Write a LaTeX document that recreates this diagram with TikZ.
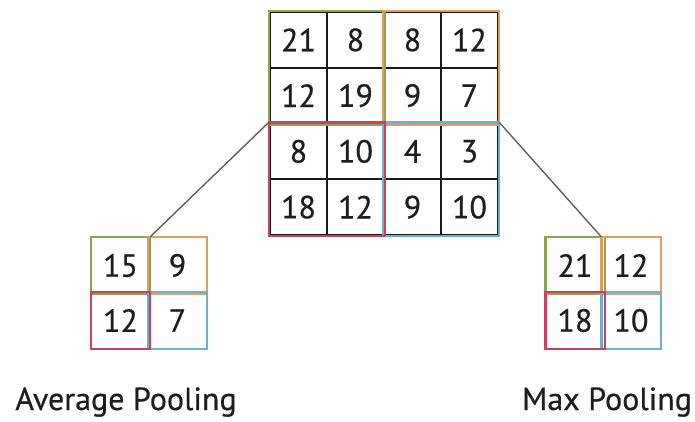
\documentclass[tikz,border=0pt]{standalone}
\usepackage{fontspec}
\setmainfont{PT Sans}
\newfontfamily\heavy[FakeBold=0.5]{PT Sans}
\definecolor{qgreen}{RGB}{140,165,85}
\definecolor{qorange}{RGB}{228,155,95}
\definecolor{qred}{RGB}{200,65,95}
\definecolor{qblue}{RGB}{110,175,205}
\definecolor{txt}{RGB}{30,30,30}
\definecolor{conn}{RGB}{95,95,95}
\begin{document}
\begin{tikzpicture}[x=1pt,y=-1pt,
  cell/.style={draw=black!90, line width=2.4pt, minimum width=57pt, minimum height=55.75pt,
    inner sep=0pt, text=txt, font=\heavy\fontsize{32}{38}\selectfont},
  scell/.style={cell, draw=none, minimum width=57pt, minimum height=55pt},
  quad/.style={line width=2.4pt},
  connector/.style={draw=conn, line width=1.4pt},
  label/.style={anchor=base, text=txt, font=\heavy\fontsize{32}{38}\selectfont}]
\useasboundingbox (0,0) rectangle (695,421);
% big grid
\foreach \r/\rowvals in {1/{21,8,8,12},2/{12,19,9,7},3/{8,10,4,3},4/{18,12,9,10}}{
  \foreach \v [count=\c] in \rowvals {
    \node[cell] (g\r\c) at ({270+57*(\c-0.5)},{12+55.75*(\r-0.5)}) {\v};
  }
}
\draw[quad, qgreen]  (g11.north west) rectangle (g22.south east);
\draw[quad, qorange] (g13.north west) rectangle (g24.south east);
\draw[quad, qblue]   (g33.north west) rectangle (g44.south east);
\draw[quad, qred]    (g31.north west) rectangle (g42.south east);
% average pooling
\node[scell] (a11) at (120.5,265.5) {15};
\node[scell] (a12) at (177.5,265.5) {9};
\node[scell] (a21) at (120.5,320.5) {12};
\node[scell] (a22) at (177.5,320.5) {7};
\draw[quad, qgreen]  (a11.north west) rectangle (a11.south east);
\draw[quad, qorange] (a12.north west) rectangle (a12.south east);
\draw[quad, qblue]   (a22.north west) rectangle (a22.south east);
\draw[quad, qred]    (a21.north west) rectangle (a21.south east);
% max pooling
\node[scell] (m11) at (575,265.5) {21};
\node[scell] (m12) at (631,265.5) {12};
\node[scell] (m21) at (575,320.5) {18};
\node[scell] (m22) at (631,320.5) {10};
\draw[quad, qgreen]  (m11.north west) rectangle (m11.south east);
\draw[quad, qorange] (m12.north west) rectangle (m12.south east);
\draw[quad, qblue]   (m22.north west) rectangle (m22.south east);
\draw[quad, qred]    (m21.north west) rectangle (m21.south east);
% connectors
\draw[connector] (g31.north west) -- (a11.north east);
\draw[connector] (g34.north east) -- (m12.north west);
% labels
\node[label] (avg) at (126,410) {Average Pooling};
\node[label] (max) at (607,410) {Max Pooling};
\end{tikzpicture}
\end{document}
